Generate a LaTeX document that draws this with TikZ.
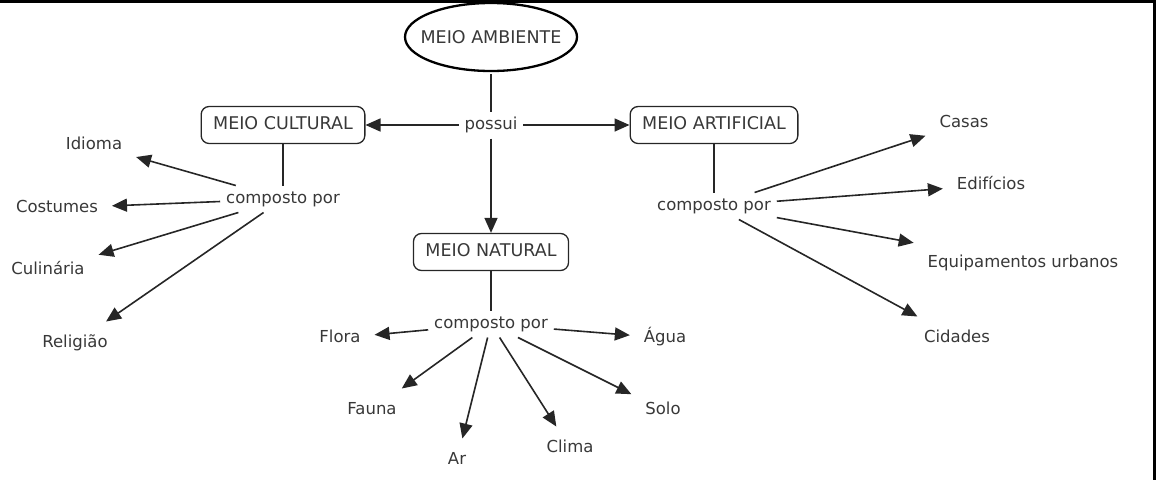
\documentclass[tikz,border=0pt]{standalone}
\usepackage{fontspec}
\setmainfont{DejaVu Sans}
\usetikzlibrary{shapes.geometric,arrows.meta}
\definecolor{inkgray}{HTML}{383838}
\definecolor{linegray}{HTML}{262626}
\tikzset{
  root/.style={ellipse, draw=black, line width=2.3pt, inner xsep=-20pt, inner ysep=-20pt,
    minimum width=172pt, minimum height=68pt, outer sep=3pt, font=\fontsize{17.5}{20}\selectfont},
  concept/.style={draw=linegray, line width=1.3pt, rounded corners=8pt, minimum height=37pt,
    inner xsep=12pt, text height=12.5pt, text depth=3pt, font=\fontsize{17.5}{20}\selectfont},
  linker/.style={inner sep=1pt, outer sep=5pt, text height=12pt, text depth=3pt},
  leaf/.style={inner sep=2pt, outer sep=12pt, text height=12pt, text depth=3pt},
  link/.style={draw=linegray, line width=1.6pt},
  arrowlink/.style={link, -{Triangle[length=15pt,width=13pt]}},
}
\begin{document}
\begin{tikzpicture}[x=1pt, y=-1pt, font=\fontsize{16.5}{20}\selectfont, text=inkgray]
\useasboundingbox (0,0) rectangle (1161,480);
\draw[line width=3pt] (0,1.5) -- (1154,1.5) -- (1154,480);

% concepts
\node[root] (ambiente) at (491,37) {MEIO AMBIENTE};
\node[linker] (possui) at (491,125) {possui};
\node[concept] (cultural) at (283,125) {MEIO CULTURAL};
\node[concept] (artificial) at (714,125) {MEIO ARTIFICIAL};
\node[concept] (natural) at (491,252) {MEIO NATURAL};
\node[linker] (compC) at (283,199) {composto por};
\node[linker] (compA) at (714,206) {composto por};
\node[linker] (compN) at (491,324) {composto por};

% meio cultural
\node[leaf] (idioma) at (94,145) {Idioma};
\node[leaf] (costumes) at (57,208) {Costumes};
\node[leaf] (culinaria) at (48,270) {Culinária};
\node[leaf] (religiao) at (75,343) {Religião};

% meio artificial
\node[leaf] (casas) at (964,123) {Casas};
\node[leaf] (edificios) at (991,185) {Edifícios};
\node[leaf] (equip) at (1023,263) {Equipamentos urbanos};
\node[leaf] (cidades) at (957,338) {Cidades};

% meio natural
\node[leaf] (flora) at (340,338) {Flora};
\node[leaf] (agua) at (665,338) {Água};
\node[leaf] (fauna) at (372,410) {Fauna};
\node[leaf] (ar) at (457,460) {Ar};
\node[leaf] (clima) at (570,448) {Clima};
\node[leaf] (solo) at (663,410) {Solo};

\draw[link] (ambiente) -- (possui);
\draw[arrowlink] (possui) -- (cultural);
\draw[arrowlink] (possui) -- (artificial);
\draw[arrowlink] (possui) -- (natural);

\draw[link] (cultural) -- (compC);
\draw[link] (artificial) -- (compA);
\draw[link] (natural) -- (compN);

\foreach \leafname in {idioma,costumes,culinaria,religiao}
  \draw[arrowlink] (compC) -- (\leafname);
\foreach \leafname in {casas,edificios,equip,cidades}
  \draw[arrowlink] (compA) -- (\leafname);
\foreach \leafname in {flora,agua,fauna,ar,clima,solo}
  \draw[arrowlink] (compN) -- (\leafname);
\end{tikzpicture}
\end{document}
